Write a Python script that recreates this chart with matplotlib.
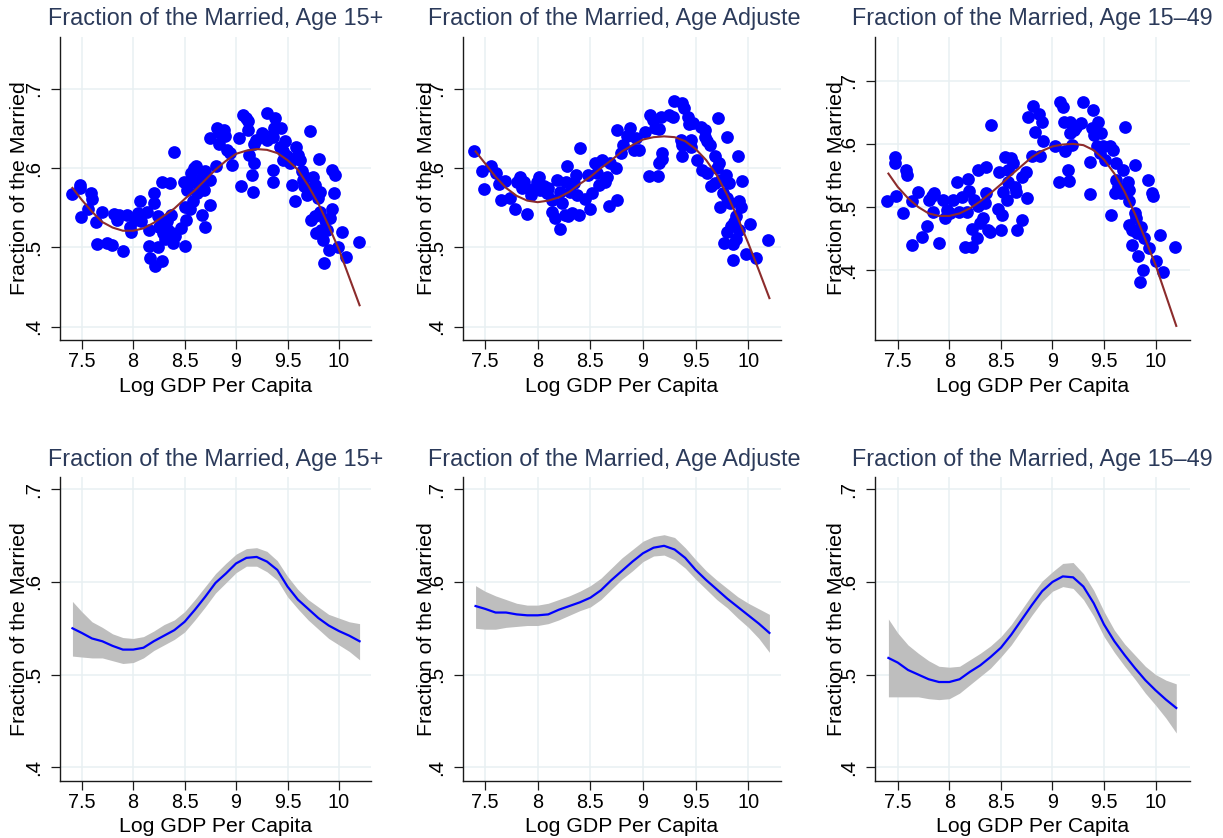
import matplotlib
matplotlib.use('Agg')
import matplotlib.pyplot as plt

plt.rcParams['font.family'] = ['Liberation Sans', 'DejaVu Sans']

W, H = 1223, 838

# ---------------- data ----------------
titles = ["Fraction of the Married, Age 15+",
          "Fraction of the Married, Age Adjuste",
          "Fraction of the Married, Age 15\u201349"]
x_label = "Log GDP Per Capita"
y_label = "Fraction of the Married"
x_ticks = [7.5, 8, 8.5, 9, 9.5, 10]
x_tick_labels = ["7.5", "8", "8.5", "9", "9.5", "10"]
y_ticks = [0.4, 0.5, 0.6, 0.7]
y_tick_labels = [".4", ".5", ".6", ".7"]

# Panel 1 scatter (Age 15+)
x_15 = [7.41, 7.48, 7.48, 7.49, 7.59, 7.60, 7.56, 7.64, 7.65, 7.70, 7.75, 7.79, 7.81, 7.84, 7.86,
        7.90, 7.94, 7.97, 7.98, 8.02, 8.05, 8.07, 8.08, 8.13, 8.15, 8.15, 8.16, 8.20, 8.20, 8.21,
        8.24, 8.24, 8.25, 8.28, 8.28, 8.29, 8.31, 8.33, 8.34, 8.36, 8.37, 8.38, 8.39, 8.41, 8.40,
        8.46, 8.50, 8.49, 8.51, 8.52, 8.50, 8.55, 8.56, 8.58, 8.58, 8.59, 8.61, 8.62, 8.65, 8.67,
        8.67, 8.69, 8.70, 8.70, 8.75, 8.75, 8.75, 8.80, 8.81, 8.83, 8.84, 8.88, 8.89, 8.91, 8.94,
        8.96, 9.03, 9.05, 9.07, 9.10, 9.12, 9.12, 9.13, 9.15, 9.16, 9.17, 9.17, 9.19, 9.25, 9.27,
        9.30, 9.30, 9.33, 9.36, 9.37, 9.38, 9.36, 9.36, 9.43, 9.44, 9.46, 9.48, 9.46, 9.49, 9.52,
        9.54, 9.57, 9.58, 9.60, 9.62, 9.64, 9.65, 9.66, 9.67, 9.69, 9.72, 9.72, 9.73, 9.75, 9.77,
        9.77, 9.78, 9.80, 9.81, 9.82, 9.82, 9.83, 9.84, 9.85, 9.86, 9.88, 9.90, 9.91, 9.93, 9.93,
        9.95, 9.96, 9.99, 10.03, 10.07, 10.19]
y_15 = [0.567, 0.579, 0.575, 0.538, 0.568, 0.561, 0.549, 0.532, 0.504, 0.544, 0.505, 0.503, 0.542, 0.535, 0.541,
        0.496, 0.541, 0.526, 0.520, 0.535, 0.543, 0.558, 0.533, 0.544, 0.522, 0.502, 0.487, 0.568, 0.556, 0.476,
        0.501, 0.539, 0.526, 0.583, 0.483, 0.518, 0.510, 0.533, 0.522, 0.581, 0.541, 0.518, 0.505, 0.514, 0.620,
        0.524, 0.502, 0.583, 0.535, 0.572, 0.551, 0.549, 0.594, 0.558, 0.583, 0.600, 0.603, 0.568, 0.577, 0.541,
        0.589, 0.572, 0.526, 0.596, 0.585, 0.554, 0.638, 0.603, 0.650, 0.631, 0.644, 0.648, 0.640, 0.623, 0.619,
        0.604, 0.638, 0.577, 0.667, 0.663, 0.659, 0.648, 0.617, 0.591, 0.570, 0.631, 0.606, 0.636, 0.644, 0.641,
        0.669, 0.636, 0.640, 0.639, 0.650, 0.663, 0.597, 0.582, 0.627, 0.650, 0.621, 0.634, 0.610, 0.615, 0.606,
        0.579, 0.558, 0.627, 0.617, 0.610, 0.596, 0.585, 0.577, 0.589, 0.566, 0.647, 0.570, 0.535, 0.589, 0.579,
        0.539, 0.518, 0.562, 0.612, 0.570, 0.545, 0.522, 0.509, 0.480, 0.535, 0.522, 0.497, 0.537, 0.549, 0.598,
        0.569, 0.591, 0.500, 0.520, 0.488, 0.507]

# Panel 2 scatter (Age Adjusted)
x_adj = [7.40, 7.47, 7.49, 7.56, 7.60, 7.63, 7.65, 7.69, 7.74, 7.78, 7.80, 7.83, 7.85, 7.87, 7.90,
         7.94, 7.96, 7.99, 8.01, 8.02, 8.06, 8.09, 8.10, 8.14, 8.14, 8.16, 8.18, 8.21, 8.21, 8.23,
         8.26, 8.27, 8.28, 8.29, 8.31, 8.33, 8.34, 8.36, 8.37, 8.39, 8.40, 8.45, 8.48, 8.50, 8.52,
         8.54, 8.56, 8.58, 8.61, 8.64, 8.66, 8.68, 8.69, 8.74, 8.75, 8.75, 8.79, 8.81, 8.85, 8.88,
         8.91, 8.93, 8.96, 9.02, 9.06, 9.07, 9.09, 9.11, 9.14, 9.15, 9.17, 9.15, 9.18, 9.18, 9.25,
         9.28, 9.29, 9.36, 9.37, 9.37, 9.37, 9.39, 9.43, 9.44, 9.46, 9.46, 9.47, 9.51, 9.55, 9.56,
         9.59, 9.59, 9.61, 9.64, 9.61, 9.65, 9.68, 9.68, 9.70, 9.71, 9.72, 9.73, 9.74, 9.76, 9.77,
         9.79, 9.80, 9.80, 9.80, 9.82, 9.83, 9.84, 9.85, 9.85, 9.86, 9.88, 9.88, 9.90, 9.91, 9.91,
         9.93, 9.94, 9.98, 10.02, 10.07, 10.19]
y_adj = [0.621, 0.596, 0.573, 0.603, 0.594, 0.580, 0.560, 0.584, 0.562, 0.548, 0.583, 0.589, 0.575, 0.583, 0.542,
         0.566, 0.573, 0.583, 0.589, 0.572, 0.577, 0.568, 0.575, 0.560, 0.545, 0.537, 0.585, 0.570, 0.523, 0.556,
         0.541, 0.582, 0.603, 0.539, 0.570, 0.543, 0.581, 0.591, 0.566, 0.541, 0.625, 0.561, 0.591, 0.549, 0.569,
         0.607, 0.594, 0.579, 0.610, 0.583, 0.589, 0.552, 0.607, 0.600, 0.560, 0.648, 0.619, 0.629, 0.640, 0.650,
         0.623, 0.638, 0.623, 0.645, 0.590, 0.667, 0.661, 0.650, 0.590, 0.649, 0.665, 0.606, 0.619, 0.612, 0.667,
         0.665, 0.684, 0.636, 0.629, 0.615, 0.682, 0.676, 0.665, 0.655, 0.636, 0.627, 0.657, 0.610, 0.652, 0.598,
         0.648, 0.639, 0.634, 0.629, 0.594, 0.577, 0.615, 0.581, 0.600, 0.663, 0.606, 0.551, 0.585, 0.568, 0.506,
         0.591, 0.639, 0.562, 0.520, 0.581, 0.556, 0.527, 0.484, 0.504, 0.532, 0.511, 0.539, 0.615, 0.522, 0.558,
         0.551, 0.584, 0.492, 0.530, 0.486, 0.509]

# Panel 3 scatter (Age 15-49)
x_1549 = [7.40, 7.47, 7.47, 7.48, 7.55, 7.58, 7.59, 7.64, 7.64, 7.70, 7.74, 7.78, 7.80, 7.83, 7.85,
          7.84, 7.90, 7.94, 7.96, 7.98, 8.01, 8.04, 8.07, 8.09, 8.12, 8.15, 8.17, 8.18, 8.19, 8.22,
          8.22, 8.24, 8.27, 8.28, 8.28, 8.30, 8.33, 8.35, 8.36, 8.36, 8.38, 8.39, 8.40, 8.47, 8.48,
          8.50, 8.51, 8.52, 8.54, 8.56, 8.57, 8.57, 8.60, 8.62, 8.64, 8.65, 8.66, 8.70, 8.70, 8.74,
          8.75, 8.76, 8.80, 8.81, 8.83, 8.87, 8.90, 8.91, 8.88, 9.02, 9.06, 9.07, 9.10, 9.11, 9.12,
          9.15, 9.16, 9.17, 9.17, 9.19, 9.21, 9.23, 9.28, 9.30, 9.36, 9.36, 9.38, 9.39, 9.40, 9.43,
          9.44, 9.46, 9.47, 9.49, 9.51, 9.56, 9.57, 9.59, 9.61, 9.62, 9.62, 9.64, 9.66, 9.68, 9.70,
          9.73, 9.74, 9.74, 9.74, 9.77, 9.77, 9.80, 9.80, 9.81, 9.82, 9.83, 9.85, 9.86, 9.88, 9.89,
          9.93, 9.94, 9.96, 9.97, 10.00, 10.04, 10.07, 10.19]
y_1549 = [0.510, 0.580, 0.569, 0.517, 0.490, 0.558, 0.551, 0.509, 0.440, 0.524, 0.453, 0.470, 0.512, 0.517, 0.522,
          0.493, 0.443, 0.512, 0.482, 0.495, 0.490, 0.511, 0.539, 0.493, 0.516, 0.437, 0.493, 0.544, 0.526, 0.437,
          0.465, 0.511, 0.451, 0.558, 0.501, 0.475, 0.482, 0.506, 0.522, 0.564, 0.464, 0.460, 0.630, 0.497, 0.555,
          0.464, 0.488, 0.524, 0.580, 0.511, 0.540, 0.559, 0.577, 0.569, 0.532, 0.524, 0.464, 0.480, 0.548, 0.556,
          0.515, 0.643, 0.581, 0.660, 0.619, 0.648, 0.635, 0.604, 0.581, 0.596, 0.539, 0.667, 0.659, 0.635, 0.588,
          0.559, 0.542, 0.634, 0.617, 0.598, 0.622, 0.627, 0.633, 0.667, 0.521, 0.572, 0.625, 0.654, 0.614, 0.596,
          0.634, 0.585, 0.617, 0.596, 0.575, 0.596, 0.488, 0.590, 0.522, 0.569, 0.543, 0.532, 0.522, 0.558, 0.626,
          0.540, 0.509, 0.527, 0.472, 0.464, 0.440, 0.567, 0.490, 0.482, 0.459, 0.422, 0.382, 0.469, 0.401, 0.451,
          0.543, 0.435, 0.522, 0.518, 0.415, 0.456, 0.398, 0.437]

# fitted curves (top row)
x_fit = [7.41, 7.5, 7.6, 7.7, 7.8, 7.9, 8.0, 8.1, 8.2, 8.3, 8.4, 8.5, 8.6, 8.7, 8.8,
         8.9, 9.0, 9.1, 9.2, 9.3, 9.4, 9.5, 9.6, 9.7, 9.8, 9.9, 10.0, 10.1, 10.2]
fit_15 = [0.575, 0.560, 0.545, 0.532, 0.525, 0.521, 0.521, 0.524, 0.531, 0.540, 0.549, 0.561, 0.572, 0.585, 0.598,
          0.609, 0.618, 0.622, 0.624, 0.623, 0.619, 0.610, 0.598, 0.578, 0.555, 0.527, 0.497, 0.462, 0.427]
fit_adj = [0.621, 0.606, 0.589, 0.575, 0.565, 0.559, 0.557, 0.559, 0.563, 0.570, 0.580, 0.589, 0.600, 0.610, 0.621,
           0.629, 0.636, 0.639, 0.640, 0.639, 0.634, 0.624, 0.610, 0.591, 0.566, 0.537, 0.505, 0.471, 0.436]
fit_1549 = [0.553, 0.532, 0.514, 0.500, 0.490, 0.486, 0.486, 0.490, 0.498, 0.509, 0.522, 0.536, 0.551, 0.565, 0.579,
            0.589, 0.596, 0.599, 0.600, 0.598, 0.590, 0.575, 0.553, 0.524, 0.489, 0.449, 0.408, 0.360, 0.312]

# smoothed curves with confidence bands (bottom row)
x_sm = [7.41, 7.5, 7.6, 7.7, 7.8, 7.9, 8.0, 8.1, 8.2, 8.3, 8.4, 8.5, 8.6, 8.7, 8.8,
        8.9, 9.0, 9.1, 9.2, 9.3, 9.4, 9.5, 9.6, 9.7, 9.8, 9.9, 10.0, 10.1, 10.2]
sm_15 = [0.550, 0.545, 0.539, 0.536, 0.531, 0.527, 0.527, 0.529, 0.536, 0.542, 0.548, 0.557, 0.570, 0.584, 0.599,
         0.609, 0.620, 0.626, 0.627, 0.622, 0.613, 0.595, 0.581, 0.571, 0.561, 0.553, 0.547, 0.542, 0.536]
hi_15 = [0.579, 0.568, 0.557, 0.551, 0.544, 0.540, 0.539, 0.541, 0.547, 0.554, 0.559, 0.568, 0.581, 0.595, 0.609,
         0.620, 0.630, 0.636, 0.637, 0.633, 0.623, 0.606, 0.592, 0.581, 0.573, 0.565, 0.561, 0.557, 0.555]
lo_15 = [0.520, 0.519, 0.518, 0.518, 0.515, 0.512, 0.513, 0.518, 0.526, 0.532, 0.538, 0.546, 0.559, 0.573, 0.588,
         0.599, 0.610, 0.617, 0.617, 0.611, 0.602, 0.584, 0.571, 0.559, 0.549, 0.539, 0.532, 0.525, 0.516]
sm_adj = [0.574, 0.571, 0.567, 0.567, 0.565, 0.564, 0.564, 0.565, 0.570, 0.574, 0.578, 0.583, 0.591, 0.602, 0.612,
          0.622, 0.631, 0.637, 0.639, 0.635, 0.626, 0.613, 0.602, 0.592, 0.582, 0.573, 0.564, 0.555, 0.545]
hi_adj = [0.596, 0.590, 0.585, 0.581, 0.577, 0.575, 0.575, 0.577, 0.581, 0.585, 0.590, 0.596, 0.604, 0.615, 0.626,
          0.635, 0.644, 0.649, 0.651, 0.648, 0.637, 0.624, 0.612, 0.602, 0.593, 0.584, 0.577, 0.571, 0.565]
lo_adj = [0.550, 0.549, 0.549, 0.551, 0.552, 0.553, 0.553, 0.555, 0.559, 0.564, 0.569, 0.573, 0.581, 0.592, 0.603,
          0.612, 0.622, 0.628, 0.629, 0.624, 0.615, 0.603, 0.592, 0.581, 0.572, 0.561, 0.551, 0.539, 0.524]
sm_1549 = [0.518, 0.513, 0.505, 0.500, 0.495, 0.492, 0.492, 0.495, 0.503, 0.510, 0.519, 0.529, 0.543, 0.559, 0.575,
           0.590, 0.600, 0.606, 0.605, 0.595, 0.577, 0.554, 0.536, 0.521, 0.507, 0.494, 0.483, 0.473, 0.464]
hi_1549 = [0.560, 0.545, 0.532, 0.523, 0.515, 0.509, 0.508, 0.509, 0.516, 0.523, 0.531, 0.541, 0.554, 0.570, 0.586,
           0.601, 0.611, 0.620, 0.621, 0.609, 0.591, 0.568, 0.548, 0.533, 0.521, 0.509, 0.500, 0.494, 0.490]
lo_1549 = [0.476, 0.476, 0.476, 0.476, 0.474, 0.473, 0.474, 0.480, 0.489, 0.498, 0.507, 0.519, 0.532, 0.548, 0.564,
           0.579, 0.590, 0.595, 0.593, 0.581, 0.563, 0.541, 0.524, 0.509, 0.495, 0.480, 0.467, 0.453, 0.437]

# ---------------- styling ----------------
TITLE_COLOR = '#2b3a5a'
GRID_COLOR = '#e8f0f2'
AXIS_COLOR = '#1a1a1a'
BLUE = '#0000ff'
MAROON = '#8c2c2c'
BAND = '#bebebe'

fig = plt.figure(figsize=(W / 100, H / 100), dpi=100)


def add_ax(l, r, t, b):
    return fig.add_axes([l / W, 1 - b / H, (r - l) / W, (b - t) / H])


cols = [(60, 371, (7.289, 10.311), 19),
        (462.7, 781, (7.288, 10.310), 426),
        (875, 1190, (7.280, 10.333), 836)]
rows = [(36.7, 340.0, 25.0, 391.5), (476.7, 780.7, 465.7, 832.0)]
top_ylims = [(0.3832, 0.7657), (0.3832, 0.7657), (0.2897, 0.7696)]
bot_ylim = (0.3855, 0.7136)

scatter_x = [x_15, x_adj, x_1549]
scatter_y = [y_15, y_adj, y_1549]
fits = [fit_15, fit_adj, fit_1549]
smooths = [(sm_15, hi_15, lo_15), (sm_adj, hi_adj, lo_adj), (sm_1549, hi_1549, lo_1549)]


def style(ax, col, row, ylim):
    l, r, xlim, ylab_x = cols[col]
    t, b, title_base, xlab_base = rows[row]
    ax.set_xlim(*xlim)
    ax.set_ylim(*ylim)
    ax.set_xticks(x_ticks, labels=x_tick_labels)
    ax.set_yticks(y_ticks, labels=y_tick_labels)
    for s in ['top', 'right']:
        ax.spines[s].set_visible(False)
    for s in ['left', 'bottom']:
        ax.spines[s].set_color(AXIS_COLOR)
        ax.spines[s].set_linewidth(1.0)
    ax.grid(True, color=GRID_COLOR, lw=1.1)
    ax.set_axisbelow(True)
    ax.tick_params(axis='both', length=6.5, width=0.9, color=AXIS_COLOR,
                   labelcolor='black')
    ax.tick_params(axis='x', pad=2, labelsize=14.3)
    ax.tick_params(axis='y', pad=5.5, labelrotation=90, labelsize=14.8)
    for lab in ax.get_yticklabels():
        lab.set_va('center')
    hpx = b - t
    wpx = r - l
    ax.set_xlabel(x_label, fontsize=15.3, color='black')
    ax.xaxis.label.set_va('baseline')
    ax.xaxis.set_label_coords(0.5, (b - xlab_base) / hpx)
    ax.set_ylabel(y_label, fontsize=15.3, color='black')
    ax.yaxis.label.set_va('center')
    ax.yaxis.set_label_coords((ylab_x - l) / wpx, 0.5)
    if col == 1:
        fig.text(428.5 / W, 1 - title_base / H, titles[col], fontsize=16.8,
                 color=TITLE_COLOR, ha='left', va='baseline')
    else:
        fig.text(((l + r) / 2) / W, 1 - title_base / H, titles[col], fontsize=16.8,
                 color=TITLE_COLOR, ha='center', va='baseline')


for c in range(3):
    l, r, xlim, _ = cols[c]
    t, b, _, _ = rows[0]
    ax = add_ax(l, r, t, b)
    ax.scatter(scatter_x[c], scatter_y[c], s=84, c=BLUE, linewidths=0, zorder=3)
    ax.plot(x_fit, fits[c], color=MAROON, lw=1.5, zorder=4)
    style(ax, c, 0, top_ylims[c])

    t, b, _, _ = rows[1]
    ax = add_ax(l, r, t, b)
    sm, hi, lo = smooths[c]
    ax.fill_between(x_sm, lo, hi, color=BAND, lw=0, zorder=2)
    ax.plot(x_sm, sm, color=BLUE, lw=1.6, zorder=3)
    style(ax, c, 1, bot_ylim)

fig.savefig('out.png', dpi=100)
